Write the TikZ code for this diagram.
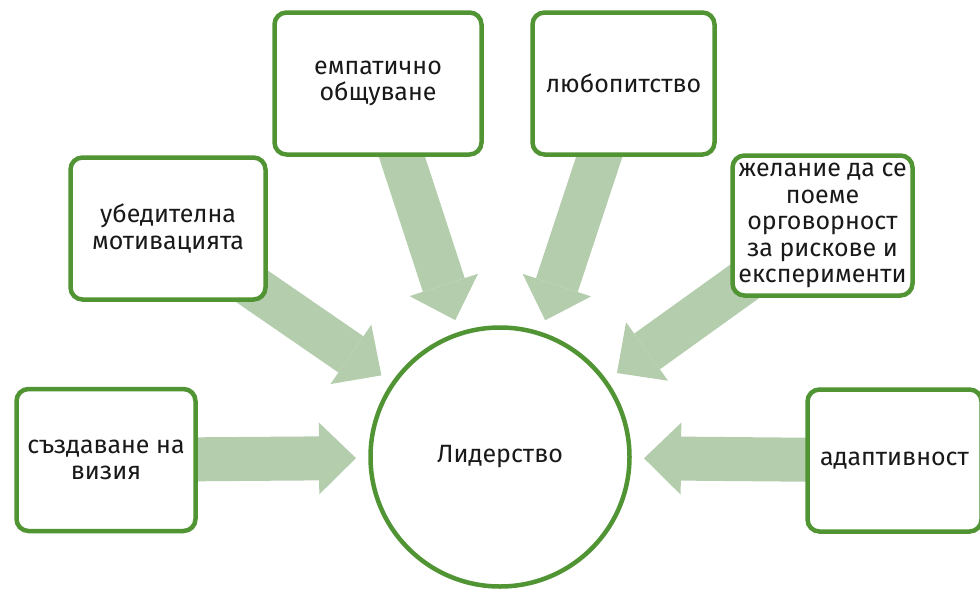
\documentclass[tikz,border=0pt]{standalone}
\usepackage{fontspec}
\setmainfont{Fira Sans}
\usetikzlibrary{arrows.meta}
\usetikzlibrary{backgrounds}
\definecolor{boxgreen}{RGB}{80,148,52}
\definecolor{arrowgreen}{RGB}{180,205,173}
\tikzset{
    item/.style = {rectangle, rounded corners=12pt, draw=boxgreen, line width=4.5pt, fill=white, align=center, text=black!90, inner sep=2pt, minimum height=142pt},
    core/.style = {circle, draw=boxgreen, line width=4.5pt, fill=white, minimum size=259pt, text=black!90},
    push/.style = {line width=44pt, draw=arrowgreen, fill=arrowgreen, -{Triangle[length=37pt 0 0, width=72pt 0 0, line width=0pt 0 0]}, shorten >=144pt}}

\begin{document}
\begin{tikzpicture}[x=1pt, y=-1pt, font={\fontsize{25}{26.5}\selectfont}]
    \useasboundingbox (0,0) rectangle (980,592);
    \node[core] (L) at (500,457) {Лидерство};
    \node[item, minimum width=179pt] (V) at (106,460) {създаване на\\визия};
    \node[item, minimum width=195pt] (M) at (168,228.5) {убедителна\\мотивацията};
    \node[item, minimum width=207pt] (E) at (378,83.5) {емпатично\\общуване};
    \node[item, minimum width=182pt] (C) at (623.5,83.5) {любопитство};
    \node[item, minimum width=180pt, minimum height=140pt] (R) at (822.5,225.5) {желание да се\\поеме\\орговорност\\за рискове и\\експерименти};
    \node[item, minimum width=174pt] (A) at (894.5,460.5) {адаптивност};
    \begin{pgfonlayer}{background}
        \draw[push] (V.center) -- (L.center);
        \draw[push] (M.center) -- (L.center);
        \draw[push] (E.center) -- (L.center);
        \draw[push] (C.center) -- (L.center);
        \draw[push] (R.center) -- (L.center);
        \draw[push] (A.center) -- (L.center);
    \end{pgfonlayer}
\end{tikzpicture}
\end{document}
